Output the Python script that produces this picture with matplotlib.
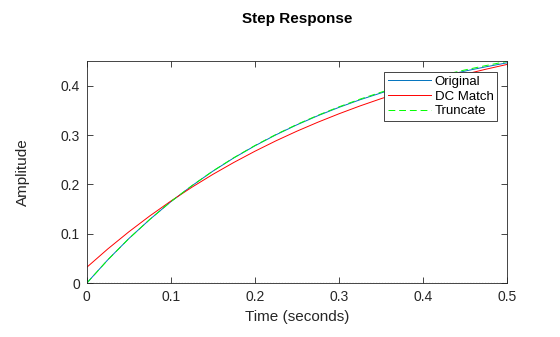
import matplotlib.pyplot as plt

plt.rcParams['font.family'] = ['Liberation Sans', 'DejaVu Sans']

# Step responses of the full model and the two reduced models
t = [0.0, 0.025, 0.05, 0.075, 0.1, 0.125, 0.15, 0.175, 0.2, 0.225, 0.25,
     0.275, 0.3, 0.325, 0.35, 0.375, 0.4, 0.425, 0.45, 0.475, 0.5]
original = [0.0, 0.0472, 0.0901, 0.1290, 0.1648, 0.1970, 0.2267, 0.2536,
            0.2780, 0.3003, 0.3206, 0.3391, 0.3559, 0.3713, 0.3851, 0.3979,
            0.4094, 0.4199, 0.4295, 0.4382, 0.4462]
dc_match = [0.032, 0.0692, 0.1038, 0.1361, 0.1661, 0.1941, 0.2202, 0.2444,
            0.2670, 0.2881, 0.3077, 0.3259, 0.3429, 0.3588, 0.3735, 0.3872,
            0.4000, 0.4119, 0.4230, 0.4333, 0.4429]
truncate = [0.0, 0.0470, 0.0900, 0.1290, 0.1650, 0.1972, 0.2270, 0.2540,
            0.2786, 0.3010, 0.3214, 0.3400, 0.3570, 0.3726, 0.3866, 0.3996,
            0.4113, 0.4220, 0.4318, 0.4407, 0.4490]

xticks = [0, 0.1, 0.2, 0.3, 0.4, 0.5]
xtick_labels = ['0', '0.1', '0.2', '0.3', '0.4', '0.5']
yticks = [0, 0.1, 0.2, 0.3, 0.4]
ytick_labels = ['0', '0.1', '0.2', '0.3', '0.4']

fig = plt.figure(figsize=(5.6, 3.37), dpi=100)
ax = fig.add_axes([0.155, 0.160, 0.750, 0.659])

axis_color = '#262626'
ax.plot(t, original, color='#0072BD', lw=0.7, label='Original')
ax.plot(t, dc_match, color='#FF0000', lw=0.7, label='DC Match')
ax.plot(t, truncate, color='#00FF00', lw=0.7, ls=(0, (7, 4)), label='Truncate')
ax.axhline(0, color='black', lw=0.8, ls=':', zorder=1)

ax.set_xlim(0, 0.5)
ax.set_ylim(0, 0.45)
ax.set_xticks(xticks)
ax.set_xticklabels(xtick_labels)
ax.set_yticks(yticks)
ax.set_yticklabels(ytick_labels)
ax.tick_params(direction='in', top=True, right=True, length=4, width=0.6,
               labelsize=10, colors=axis_color, labelcolor=axis_color, pad=5)
for s in ax.spines.values():
    s.set_color(axis_color)
    s.set_linewidth(0.6)

ax.set_xlabel('Time (seconds)', fontsize=11, color=axis_color, labelpad=4)
ax.set_ylabel('Amplitude', fontsize=11, color=axis_color, labelpad=22)
fig.suptitle('Step Response', fontsize=11, fontweight='bold', y=0.965,
             x=0.53)

leg = ax.legend(loc='upper right', fontsize=9.5, frameon=True, fancybox=False,
                borderpad=0.25, labelspacing=0.2, handlelength=3.3,
                handletextpad=0.25, borderaxespad=0,
                bbox_to_anchor=(0.976, 0.950))
leg.get_frame().set_edgecolor(axis_color)
leg.get_frame().set_linewidth(0.6)
leg.get_frame().set_alpha(1.0)

fig.savefig('out.png', dpi=100)
